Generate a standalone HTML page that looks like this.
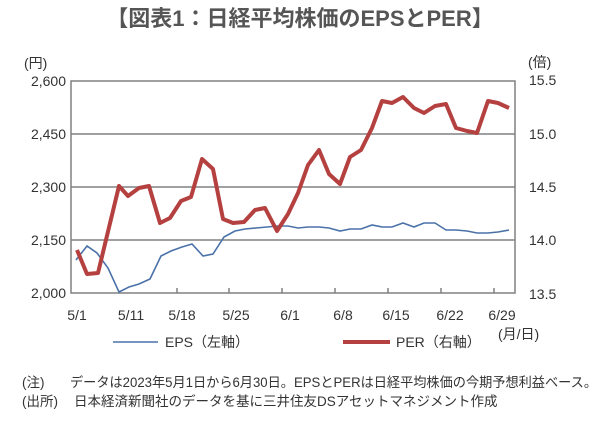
<!DOCTYPE html>
<html><head><meta charset="utf-8"><style>
body{margin:0;background:#fff;width:600px;height:419px;overflow:hidden;font-family:"Liberation Sans","Noto Sans CJK JP",sans-serif;}
</style></head><body>
<svg width="600" height="419" xmlns="http://www.w3.org/2000/svg" font-family="Liberation Sans, Noto Sans CJK JP, sans-serif">
<text x="300" y="26" text-anchor="middle" font-size="22" font-weight="bold" fill="#555">【図表1：日経平均株価のEPSとPER】</text>
<g stroke="#808080" stroke-width="1.5" fill="none">
<line x1="71" y1="134" x2="515" y2="134"/><line x1="71" y1="187" x2="515" y2="187"/><line x1="71" y1="240" x2="515" y2="240"/>
<rect x="71" y="81" width="444" height="212"/>
<path d="M177 293v-5M229 293v-5M282 293v-5M335 293v-5M388 293v-5M441 293v-5M494 293v-5"/>
</g>
<g font-size="14" fill="#333">
<text x="24" y="68">(円)</text>
<text x="66" y="86" text-anchor="end">2,600</text>
<text x="66" y="139" text-anchor="end">2,450</text>
<text x="66" y="192" text-anchor="end">2,300</text>
<text x="66" y="245" text-anchor="end">2,150</text>
<text x="66" y="298" text-anchor="end">2,000</text>
<text x="528" y="67">(倍)</text>
<text x="529" y="85">15.5</text><text x="529" y="139">15.0</text><text x="529" y="192">14.5</text><text x="529" y="245">14.0</text><text x="529" y="299">13.5</text>
<g text-anchor="middle">
<text x="77" y="320">5/1</text><text x="131" y="320">5/11</text><text x="182" y="320">5/18</text><text x="236" y="320">5/25</text><text x="290" y="320">6/1</text><text x="343" y="320">6/8</text><text x="396" y="320">6/15</text><text x="450" y="320">6/22</text><text x="502" y="320">6/29</text>
</g>
<text x="498" y="339">(月/日)</text>
<text x="165" y="347">EPS（左軸）</text>
<text x="396" y="347">PER（右軸）</text>
<text x="22" y="387" font-size="13.5">(注)</text><text x="70" y="387" font-size="13.5" textLength="527" lengthAdjust="spacingAndGlyphs">データは2023年5月1日から6月30日。EPSとPERは日経平均株価の今期予想利益ベース。</text>
<text x="22" y="406" font-size="13.5">(出所)</text><text x="74" y="406" font-size="13.5">日本経済新聞社のデータを基に三井住友DSアセットマネジメント作成</text>
</g>
<line x1="113" y1="342" x2="158" y2="342" stroke="#4a72a8" stroke-width="1.5"/>
<line x1="343" y1="342" x2="390" y2="342" stroke="#b54040" stroke-width="4"/>
<polyline fill="none" stroke="#4a72a8" stroke-width="1.6" points="76,260 87,246 97,253 108,268 119,292 129,287 139,284 150,279 161,256 171,251 182,247 192,244 203,256 213,254 224,237 235,231 245,229 256,228 267,227 277,226 288,226 298,228 308,227 319,227 329,228 340,231 350,229 361,229 372,225 382,227 392,227 403,223 414,227 424,223 435,223 446,230 456,230 467,231 477,233 488,233 498,232 509,230"/>
<polyline fill="none" stroke="#b54040" stroke-width="4" stroke-linejoin="round" points="77,250 87,274 98,273 119,186 128,196 139,188 149,186 160,223 170,218 181,201 191,197 202,159 213,169 223,219 233,223 244,222 255,210 265,208 277,231 288,214 298,193 308,165 319,150 329,174 340,184 350,157 361,150 372,128 382,101 392,103 403,97 414,108 424,113 435,106 446,104 456,128 467,131 477,133 488,101 498,103 509,108"/>
</svg>
</body></html>
